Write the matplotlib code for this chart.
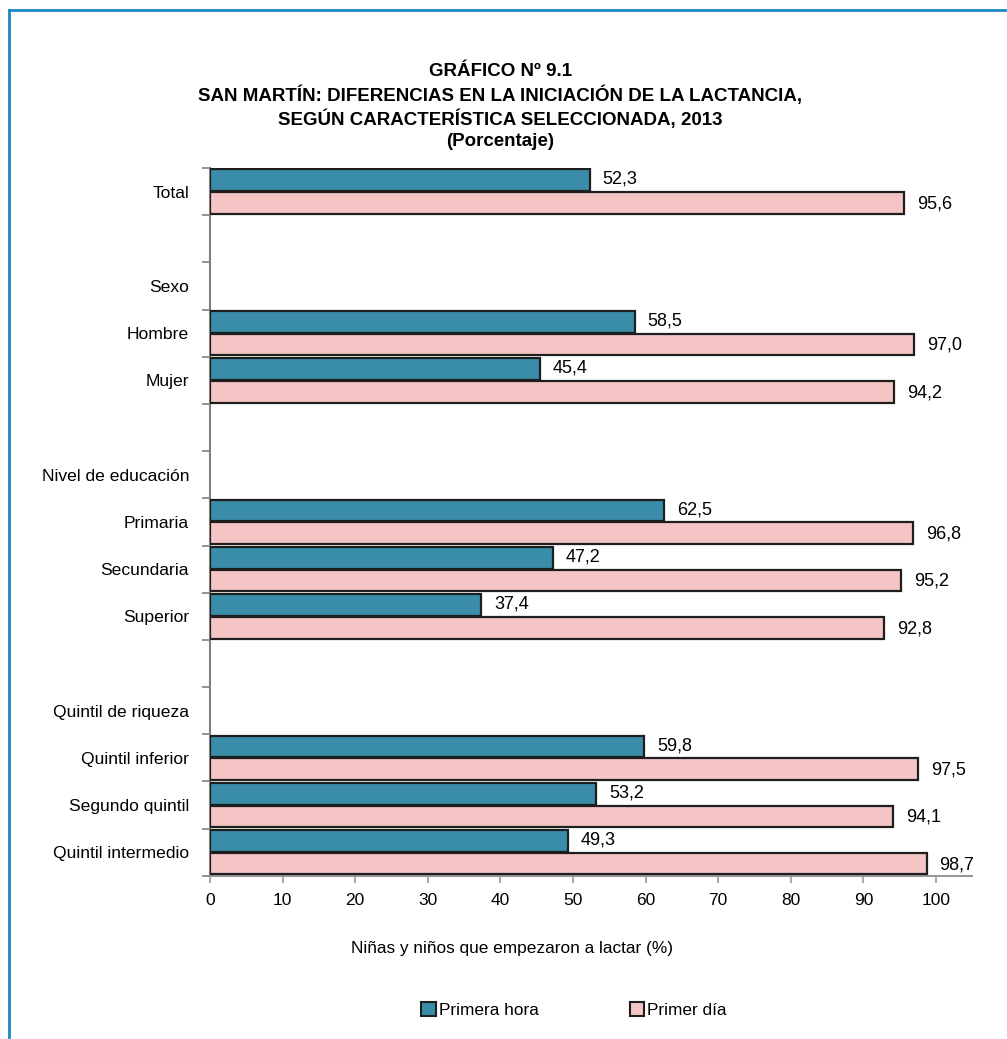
import matplotlib
matplotlib.use("Agg")
import matplotlib.pyplot as plt
from matplotlib import font_manager
from matplotlib.lines import Line2D
from matplotlib.patches import Patch
import numpy as np

# font: the original uses a narrow Arial-like face
names = set(f.name for f in font_manager.fontManager.ttflist)
if "Liberation Sans Narrow" in names:
    plt.rcParams["font.family"] = ["Liberation Sans Narrow", "DejaVu Sans"]
else:
    plt.rcParams["font.family"] = ["Liberation Sans", "DejaVu Sans"]

# data (blank entries are spacer rows in the chart)
categories = ["Total", "", "Sexo", "Hombre", "Mujer", "",
              "Nivel de educación", "Primaria", "Secundaria", "Superior", "",
              "Quintil de riqueza", "Quintil inferior", "Segundo quintil", "Quintil intermedio"]
primera_hora = [52.3, None, None, 58.5, 45.4, None,
                None, 62.5, 47.2, 37.4, None,
                None, 59.8, 53.2, 49.3]
primer_dia = [95.6, None, None, 97.0, 94.2, None,
              None, 96.8, 95.2, 92.8, None,
              None, 97.5, 94.1, 98.7]
xticks = [0, 10, 20, 30, 40, 50, 60, 70, 80, 90, 100]

title = ("GRÁFICO Nº 9.1\n"
         "SAN MARTÍN: DIFERENCIAS EN LA INICIACIÓN DE LA LACTANCIA,\n"
         "SEGÚN CARACTERÍSTICA SELECCIONADA, 2013\n"
         "(Porcentaje)")

blue = "#3A8DA8"
pink = "#F5C5C5"
edge = "#1E1E1E"

fig = plt.figure(figsize=(10.07, 10.39), dpi=100)
ax = fig.add_axes([0.2085, 0.157, 0.757, 0.6813])

y = np.arange(len(categories))
h = 0.46
for i in range(len(categories)):
    if primera_hora[i] is not None:
        ax.barh(y[i] - 0.24, primera_hora[i], height=h, color=blue,
                edgecolor=edge, linewidth=1.6, zorder=3)
        ax.text(primera_hora[i] + 1.8, y[i] - 0.26,
                f"{primera_hora[i]:.1f}".replace(".", ","),
                va="center", ha="left", fontsize=13)
    if primer_dia[i] is not None:
        ax.barh(y[i] + 0.24, primer_dia[i], height=h, color=pink,
                edgecolor=edge, linewidth=1.6, zorder=3)
        ax.text(primer_dia[i] + 1.8, y[i] + 0.26,
                f"{primer_dia[i]:.1f}".replace(".", ","),
                va="center", ha="left", fontsize=13)

ax.set_ylim(len(categories) - 0.5, -0.5)
ax.set_xlim(0, 105)

ax.set_yticks(y)
ax.set_yticklabels(categories, fontsize=12.6)
ax.set_yticks(np.arange(-0.5, len(categories), 1.0), minor=True)
ax.tick_params(axis="y", which="major", length=0, pad=15)
ax.tick_params(axis="y", which="minor", length=6, width=1.2, color="#808080")

ax.set_xticks(xticks)
ax.set_xticklabels([str(t) for t in xticks], fontsize=12.5)
ax.tick_params(axis="x", length=5, width=1.2, color="#999999", pad=7)

for s in ["top", "right"]:
    ax.spines[s].set_visible(False)
ax.spines["left"].set_color("#808080")
ax.spines["left"].set_linewidth(1.5)
ax.spines["bottom"].set_color("#999999")
ax.spines["bottom"].set_linewidth(1.5)

fig.text(0.508, 0.0875, "Niñas y niños que empezaron a lactar (%)",
         ha="center", va="center", fontsize=12.4)

fig.text(0.497, 0.8975, title, ha="center", va="center", fontsize=13.5,
         fontweight="bold", linespacing=1.3)

handles = [Patch(facecolor=blue, edgecolor=edge, linewidth=1.5, label="Primera hora"),
           Patch(facecolor=pink, edgecolor=edge, linewidth=1.5, label="Primer día")]
fig.legend(handles=handles, loc="center", bbox_to_anchor=(0.570, 0.028), ncol=2,
           frameon=False, fontsize=12.4, handlelength=0.85, handleheight=0.85,
           handletextpad=0.17, columnspacing=5.3)

# blue outer frame (top and left visible)
fig.add_artist(Line2D([0.009, 1.0], [0.9905, 0.9905], color="#1A8AC8",
                      linewidth=2, transform=fig.transFigure))
fig.add_artist(Line2D([0.009, 0.009], [0.0, 0.9905], color="#1A8AC8",
                      linewidth=2, transform=fig.transFigure))

fig.savefig("out.png", dpi=100, facecolor="white")
